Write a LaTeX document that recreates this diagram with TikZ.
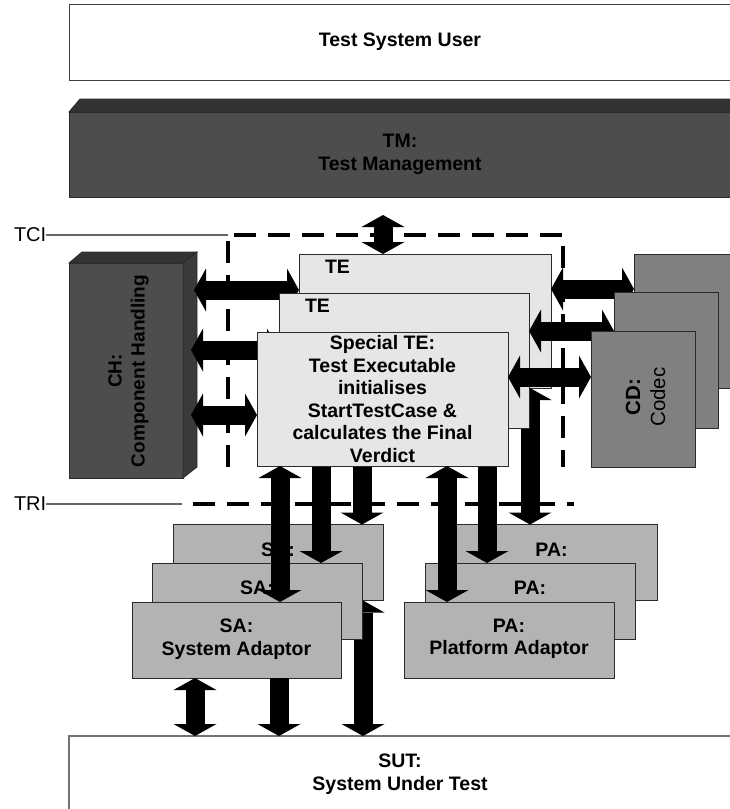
\documentclass[tikz,border=0pt]{standalone}
\usepackage{fontspec}
\setmainfont{Liberation Sans}
\usetikzlibrary{arrows.meta}
\definecolor{tmfront}{HTML}{4D4D4D}
\definecolor{tmtop}{HTML}{333333}
\definecolor{chside}{HTML}{3A3A3A}
\definecolor{tefill}{HTML}{E6E6E6}
\definecolor{cdfill}{HTML}{808080}
\definecolor{safill}{HTML}{B3B3B3}
\definecolor{edge}{HTML}{2B2B2B}
\begin{document}
\begin{tikzpicture}[x=1pt,y=-1pt,
  every node/.style={inner sep=0pt, outer sep=0pt},
  box/.style={draw=edge, line width=0.8pt},
  lab/.style={font=\fontsize{19.5}{22.5}\selectfont\bfseries, align=center},
  reg/.style={font=\fontsize{19.5}{22.5}\selectfont, align=center},
  tebox/.style={box, fill=tefill},
  cdbox/.style={box, fill=cdfill, minimum width=104pt, minimum height=136pt},
  adbox/.style={box, fill=safill, minimum width=210pt, minimum height=76pt},
  fat/.style={line width=19pt, black, >={Triangle[length=12pt,width=43pt,line width=0pt]}},
  frame/.style={line width=3.5pt, dash pattern=on 22pt off 12pt},
  refline/.style={line width=1.2pt, black!60}]
\useasboundingbox (0,0) rectangle (730,809);
\clip (0,0) rectangle (730,809);

% Test System User
\node[box, draw=black!75, fill=white, lab, minimum width=662pt, minimum height=76pt] (tsu) at (400,42) {Test System User};

% Test Management
\filldraw[fill=tmtop, draw=edge, line width=0.8pt] (69,112) -- (80,99) -- (731,99) -- (731,112) -- cycle;
\node[box, fill=tmfront, lab, minimum width=662pt, minimum height=85pt] (tm) at (400,154.5) {TM:\\Test Management};

% System Under Test
\node[box, draw=black!55, line width=1.4pt, fill=white, minimum width=662pt, minimum height=76pt, lab] (sut) at (400,774) {SUT:\\System Under Test};

% interface lines
\draw[frame] (228,467) -- (228,235) -- (563,235) -- (563,467);
\draw[frame] (193,504) -- (574,504);
\node[reg, font=\fontsize{20}{22}\selectfont, anchor=west] (tci) at (14,235) {TCI};
\node[reg, font=\fontsize{20}{22}\selectfont, anchor=west] (tri) at (14,504) {TRI};
\coordinate (tcicorner) at (228,235);
\coordinate (trijoin) at (182,504);
\draw[refline] (tci.east) -- (tcicorner);
\draw[refline] (tri.east) -- (trijoin);

% Component Handling
\node[box, fill=tmfront, minimum width=114pt, minimum height=215pt] (ch) at (126,370.5) {};
\filldraw[fill=tmtop, draw=edge, line width=0.8pt] (69,263) -- (82,252) -- (197,252) -- (183,263) -- cycle;
\filldraw[fill=chside, draw=edge, line width=0.8pt] (183,263) -- (197,252) -- (197,467) -- (183,478) -- cycle;
\node[lab, font=\fontsize{19}{23}\selectfont\bfseries, rotate=90] (chtext) at (128.5,371) {CH:\\Component Handling};

% System Adaptors and Platform Adaptors
\node[adbox] (sa1) at (278,562.5) {};
\node[lab] (sa1lab) at (278,550) {SA:};
\draw[fat,<->] ([xshift=190pt]sa1.south west) -- ([xshift=294pt]sut.north west);
\node[adbox] (sa2) at (257,601) {};
\node[lab] (sa2lab) at (257,588) {SA:};
\node[adbox, minimum width=209pt] (sa3) at (236.5,640) {};
\node[lab] (sa3lab) at (236.5,639) {SA:\\System Adaptor};
\node[adbox, minimum width=211pt] (pa1) at (551.5,562.5) {};
\node[lab] (pa1lab) at (551.5,550) {PA:};
\node[adbox] (pa2) at (530,601) {};
\node[lab] (pa2lab) at (530,588) {PA:};
\node[adbox] (pa3) at (509,640) {};
\node[lab] (pa3lab) at (509,639) {PA:\\Platform Adaptor};

% Test Executables
\node[tebox, minimum width=252pt, minimum height=134pt] (te1) at (425,321) {};
\node[lab, anchor=west] (te1lab) at (325,267) {TE};
\draw[fat,<->] ([xshift=11pt,yshift=-27pt]ch.north east) -- ([yshift=-36pt]te1.north west);
\draw[fat,<->] ([xshift=63pt]te1.south west) -- ([xshift=189pt]sa1.north west);
\draw[fat,<->] ([xshift=231pt]te1.south west) -- ([xshift=84pt]pa1.north west);

\node[cdbox, minimum width=106pt, minimum height=134pt] (cd1) at (687,321) {};
\draw[fat,<->] ([yshift=-35pt]te1.north east) -- ([yshift=-35pt]cd1.north west);
\node[cdbox] (cd2) at (666,360) {};

\node[tebox, minimum width=250pt, minimum height=135pt] (te2) at (404,360.5) {};
\node[lab, anchor=west] (te2lab) at (305,306) {TE};
\draw[fat,<->] ([yshift=-38pt]te2.north east) -- ([yshift=-39pt]cd2.north west);
\node[cdbox] (cd3) at (643,399) {};
\node[rotate=90, align=center, font=\fontsize{20.5}{25}\selectfont] (cdtext) at (645.5,397) {{\bfseries CD:}\\Codec};
\draw[fat,<->] ([xshift=42pt]te2.south west) -- ([xshift=169pt]sa2.north west);
\draw[fat,<->] ([xshift=208pt]te2.south west) -- ([xshift=62pt]pa2.north west);
\draw[fat,<->] ([xshift=8pt,yshift=-87pt]ch.north east) -- ([yshift=-57pt]te2.north west);

\node[tebox, lab, minimum width=251pt, minimum height=134pt] (te3) at (382.5,399)
  {Special TE:\\Test Executable\\initialises\\StartTestCase \&\\calculates the Final\\Verdict};
\draw[fat,<->] ([yshift=-45pt]te3.north east) -- ([yshift=-46pt]cd3.north west);
\draw[fat,<->] ([xshift=8pt,yshift=-152pt]ch.north east) -- ([yshift=-83pt]te3.north west);
\draw[fat,<->] ([xshift=23pt]te3.south west) -- ([xshift=148pt]sa3.north west);
\draw[fat,<->] ([xshift=190pt]te3.south west) -- ([xshift=43pt]pa3.north west);

% TM <-> TE
\draw[fat,<->] ([xshift=-17pt,yshift=-18pt]tm.south) -- ([xshift=-42pt]te1.north);

% SA -> SUT
\draw[fat,<->] ([xshift=63pt]sa3.south west) -- ([xshift=126pt]sut.north west);
\draw[fat,->] ([xshift=147pt]sa3.south west) -- ([xshift=210pt]sut.north west);
\end{tikzpicture}
\end{document}
